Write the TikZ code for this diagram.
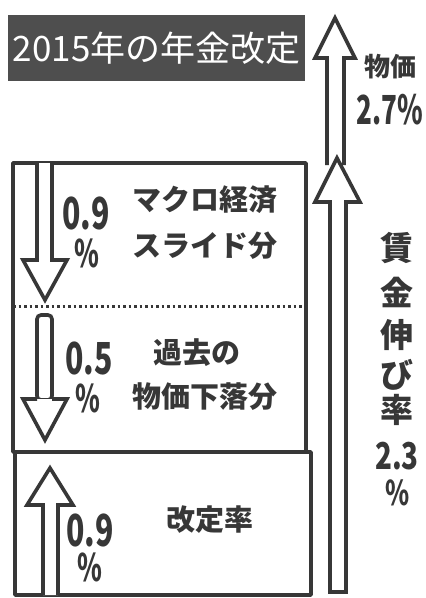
\documentclass[tikz,border=0pt]{standalone}
\usepackage{fontspec}
\newfontfamily\jp{Noto Sans CJK JP}
\definecolor{ink}{RGB}{55,55,55}
\definecolor{titlebg}{RGB}{78,78,78}
\tikzset{
  line/.style={draw=ink, line width=3.8pt, line join=round},
  hollow/.style={draw=ink, fill=white, line width=3.6pt, line join=miter},
  jtext/.style={text=ink, font=\jp\bfseries\fontsize{29}{29}\selectfont, inner sep=0pt},
  numtext/.style={text=ink, font=\jp\bfseries\fontsize{42}{42}\selectfont, inner sep=0pt, xscale=0.72, yscale=1.05},
  pcttext/.style={text=ink, font=\jp\bfseries\fontsize{36}{36}\selectfont, inner sep=0pt, xscale=0.7, yscale=1.05},
  vtext/.style={text=ink, font=\jp\bfseries\fontsize{33}{33}\selectfont, inner sep=0pt},
}
\begin{document}
\begin{tikzpicture}[x=1pt,y=-1pt]
\useasboundingbox (0,0) rectangle (426,598);
\fill[white] (0,0) rectangle (426,598);
% title
\node[fill=titlebg, minimum width=297pt, minimum height=66pt, inner sep=0pt, anchor=north west] (title) at (8,15) {};
\node[text=white, font=\jp\fontsize{35}{35}\selectfont, inner sep=0pt] (titletext) at (title.center) {2015年の年金改定};
% boxes
\draw[line] (13,163) rectangle (306,452);
\draw[line] (15,452) rectangle (311,595);
\draw[draw=ink, line width=3pt, dash pattern=on 2.5pt off 3pt] (13,306) -- (306,306);
% left arrows
\draw[hollow] (37,163) -- (37,260) -- (23,260) -- (45,300) -- (67,260) -- (52,260) -- (52,163);
\draw[hollow, rounded corners=4pt] (45,400) -- (37,400) -- (37,315) -- (52,315) -- (52,400) -- (45,400);
\draw[hollow] (37,399) -- (23,399) -- (45,440) -- (67,399) -- (52,399);
\draw[hollow] (43,595) -- (43,505) -- (27,505) -- (50,468) -- (73,505) -- (58,505) -- (58,595);
% right arrows
\draw[hollow] (327,165) -- (327,58) -- (315,58) -- (335,18) -- (355,58) -- (344,58) -- (344,165);
\draw[hollow] (330,592) -- (330,202) -- (315,202) -- (337,158) -- (360,202) -- (346,202) -- (346,592) -- cycle;
% texts in boxes
\node[jtext] (m1) at (205,200) {マクロ経済};
\node[jtext] (m2) at (205,246) {スライド分};
\node[jtext] (k1) at (197,353) {過去の};
\node[jtext] (k2) at (205,397) {物価下落分};
\node[jtext] (kt) at (210,520) {改定率};
\node[numtext] (n1) at (86,213) {0.9};
\node[pcttext] (p1) at (87,253) {\%};
\node[numtext] (n2) at (89,358) {0.5};
\node[pcttext] (p2) at (88,398) {\%};
\node[numtext] (n3) at (90,530) {0.9};
\node[pcttext] (p3) at (90,567) {\%};
% right labels
\node[text=ink, font=\jp\bfseries\fontsize{26}{26}\selectfont, inner sep=0pt] (bk) at (390,67) {物価};
\node[text=ink, font=\jp\bfseries\fontsize{40}{40}\selectfont, inner sep=0pt, xscale=0.65] (bkv) at (390,110) {2.7\%};
\node[vtext] (v1) at (397,248) {賃};
\node[vtext] (v2) at (397,292) {金};
\node[vtext] (v3) at (397,335) {伸};
\node[vtext] (v4) at (397,375) {び};
\node[vtext] (v5) at (397,410) {率};
\node[text=ink, font=\jp\bfseries\fontsize{37}{37}\selectfont, inner sep=0pt, xscale=0.75] (v6) at (397,456) {2.3};
\node[text=ink, font=\jp\bfseries\fontsize{34}{34}\selectfont, inner sep=0pt, xscale=0.72] (v7) at (398,493) {\%};
\end{tikzpicture}
\end{document}
